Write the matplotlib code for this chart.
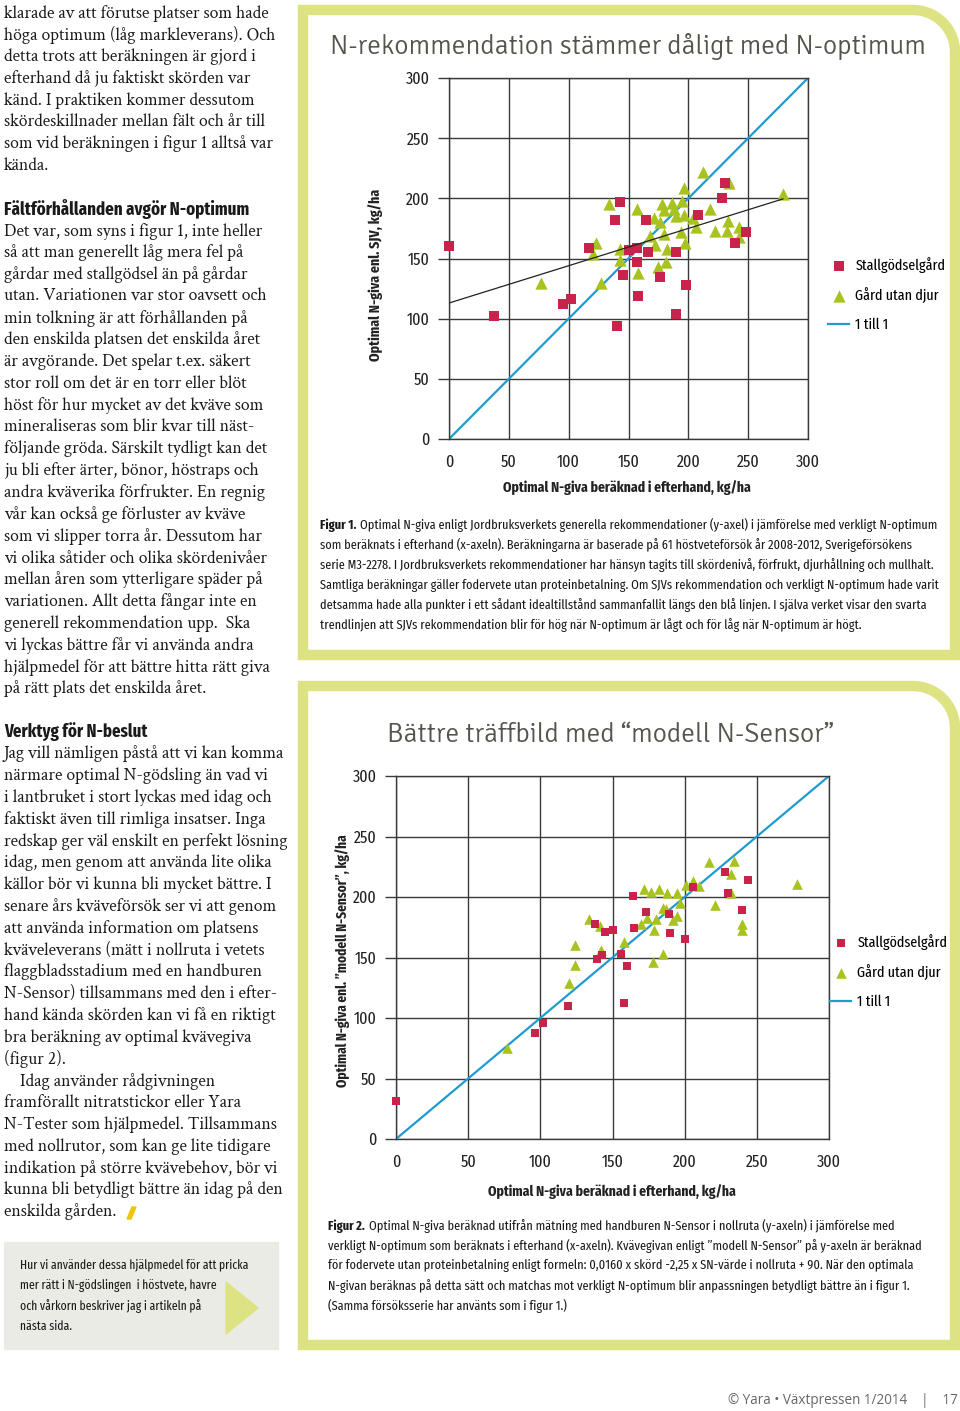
import numpy as np
import matplotlib
matplotlib.use("Agg")
import matplotlib.pyplot as plt
from matplotlib.patches import Polygon, Rectangle

W, H = 960, 1411
NARROW = ["Fira Sans Extra Condensed", "PT Sans Narrow", "Liberation Sans Narrow", "DejaVu Sans"]
SERIF = ["Crimson Text", "Liberation Serif", "DejaVu Serif"]
ROUND = ["Signika", "Ubuntu", "Open Sans", "DejaVu Sans"]
plt.rcParams["font.family"] = NARROW

# ---- figure 1 data: SJV recommendation vs calculated optimum (kg N/ha)
fig1_stall_x = [0, 38, 95, 102, 117, 139, 143, 140, 145, 150, 157, 157, 158, 166,
                165, 176, 190, 190, 198, 208, 228, 231, 239, 248]
fig1_stall_y = [160, 102, 112, 116, 159, 182, 197, 94, 136, 157, 159, 147, 119, 155,
                182, 135, 155, 104, 128, 186, 200, 213, 163, 172]
fig1_utan_x = [77, 120, 123, 127, 134, 143, 143, 157, 158, 168, 171, 172, 175, 176,
               178, 180, 180, 181, 182, 186, 188, 190, 194, 195, 196, 196, 197, 204,
               206, 212, 218, 222, 232, 233, 234, 242, 242, 279]
fig1_utan_y = [130, 154, 163, 130, 195, 158, 149, 191, 138, 169, 184, 161, 143, 180,
               195, 190, 170, 147, 158, 196, 191, 185, 172, 198, 209, 186, 163, 184,
               176, 222, 191, 173, 173, 181, 213, 176, 168, 204]
trend_intercept = 113
trend_slope = 0.31
trend_x = [0, 279]

# ---- figure 2 data: "modell N-Sensor" vs calculated optimum (kg N/ha)
fig2_stall_x = [0, 96, 102, 119, 139, 143, 138, 145, 150, 156, 160, 158, 164, 165,
                173, 189, 190, 200, 206, 228, 230, 240, 244]
fig2_stall_y = [31, 88, 96, 110, 149, 152, 178, 171, 173, 153, 143, 112, 201, 174,
                188, 186, 170, 165, 208, 221, 203, 189, 214]
fig2_utan_x = [77, 120, 124, 124, 134, 141, 142, 158, 170, 172, 174, 177, 178, 179,
               180, 182, 185, 185, 187, 188, 192, 195, 195, 197, 201, 206, 210, 217,
               221, 232, 232, 234, 240, 240, 278]
fig2_utan_y = [75, 129, 144, 160, 182, 176, 156, 163, 178, 207, 183, 204, 146, 173,
               182, 207, 153, 191, 190, 203, 181, 184, 203, 195, 210, 213, 209, 229,
               193, 219, 203, 230, 178, 173, 211]

one_to_one = [0, 300]
ticks = [0, 50, 100, 150, 200, 250, 300]
legend_labels = ["Stallgödselgård", "Gård utan djur", "1 till 1"]

title1 = "N-rekommendation stämmer dåligt med N-optimum"
title2 = "Bättre träffbild med “modell N-Sensor”"
ylabel1 = "Optimal N-giva enl. SJV, kg/ha"
ylabel2 = "Optimal N-giva enl. ”modell N-Sensor”, kg/ha"
xlabel = "Optimal N-giva beräknad i efterhand, kg/ha"

caption1 = [
    "Optimal N-giva enligt Jordbruksverkets generella rekommendationer (y-axel) i jämförelse med verkligt N-optimum",
    "som beräknats i efterhand (x-axeln). Beräkningarna är baserade på 61 höstveteförsök år 2008-2012, Sverigeförsökens",
    "serie M3-2278. I Jordbruksverkets rekommendationer har hänsyn tagits till skördenivå, förfrukt, djurhållning och mullhalt.",
    "Samtliga beräkningar gäller fodervete utan proteinbetalning. Om SJVs rekommendation och verkligt N-optimum hade varit",
    "detsamma hade alla punkter i ett sådant idealtillstånd sammanfallit längs den blå linjen. I själva verket visar den svarta",
    "trendlinjen att SJVs rekommendation blir för hög när N-optimum är lågt och för låg när N-optimum är högt.",
]
caption2 = [
    "Optimal N-giva beräknad utifrån mätning med handburen N-Sensor i nollruta (y-axeln) i jämförelse med",
    "verkligt N-optimum som beräknats i efterhand (x-axeln). Kvävegivan enligt ”modell N-Sensor” på y-axeln är beräknad",
    "för fodervete utan proteinbetalning enligt formeln: 0,0160 x skörd -2,25 x SN-värde i nollruta + 90. När den optimala",
    "N-givan beräknas på detta sätt och matchas mot verkligt N-optimum blir anpassningen betydligt bättre än i figur 1.",
    "(Samma försöksserie har använts som i figur 1.)",
]

body_a = [
    "klarade av att förutse platser som hade",
    "höga optimum (låg markleverans). Och",
    "detta trots att beräkningen är gjord i",
    "efterhand då ju faktiskt skörden var",
    "känd. I praktiken kommer dessutom",
    "skördeskillnader mellan fält och år till",
    "som vid beräkningen i figur 1 alltså var",
    "kända.",
]
heading_b = "Fältförhållanden avgör N-optimum"
body_b = [
    "Det var, som syns i figur 1, inte heller",
    "så att man generellt låg mera fel på",
    "gårdar med stallgödsel än på gårdar",
    "utan. Variationen var stor oavsett och",
    "min tolkning är att förhållanden på",
    "den enskilda platsen det enskilda året",
    "är avgörande. Det spelar t.ex. säkert",
    "stor roll om det är en torr eller blöt",
    "höst för hur mycket av det kväve som",
    "mineraliseras som blir kvar till näst-",
    "följande gröda. Särskilt tydligt kan det",
    "ju bli efter ärter, bönor, höstraps och",
    "andra kväverika förfrukter. En regnig",
    "vår kan också ge förluster av kväve",
    "som vi slipper torra år. Dessutom har",
    "vi olika såtider och olika skördenivåer",
    "mellan åren som ytterligare späder på",
    "variationen. Allt detta fångar inte en",
    "generell rekommendation upp.  Ska",
    "vi lyckas bättre får vi använda andra",
    "hjälpmedel för att bättre hitta rätt giva",
    "på rätt plats det enskilda året.",
]
heading_c = "Verktyg för N-beslut"
body_c = [
    "Jag vill nämligen påstå att vi kan komma",
    "närmare optimal N-gödsling än vad vi",
    "i lantbruket i stort lyckas med idag och",
    "faktiskt även till rimliga insatser. Inga",
    "redskap ger väl enskilt en perfekt lösning",
    "idag, men genom att använda lite olika",
    "källor bör vi kunna bli mycket bättre. I",
    "senare års kväveförsök ser vi att genom",
    "att använda information om platsens",
    "kväveleverans (mätt i nollruta i vetets",
    "flaggbladsstadium med en handburen",
    "N-Sensor) tillsammans med den i efter-",
    "hand kända skörden kan vi få en riktigt",
    "bra beräkning av optimal kvävegiva",
    "(figur 2).",
    "    Idag använder rådgivningen",
    "framförallt nitratstickor eller Yara",
    "N-Tester som hjälpmedel. Tillsammans",
    "med nollrutor, som kan ge lite tidigare",
    "indikation på större kvävebehov, bör vi",
    "kunna bli betydligt bättre än idag på den",
    "enskilda gården.",
]
box_text = [
    "Hur vi använder dessa hjälpmedel för att pricka",
    "mer rätt i N-gödslingen  i höstvete, havre",
    "och vårkorn beskriver jag i artikeln på",
    "nästa sida.",
]
footer = "© Yara • Växtpressen 1/2014    |    17"

RED = "#c8234b"
GREEN = "#a8c21e"
BLUE = "#1f9bd1"
FRAME = "#dde383"
TITLE = "#55554d"
GRID = "#3a3a3a"
INK = "#1a1a1a"

fig = plt.figure(figsize=(W / 100, H / 100), dpi=100)
renderer = fig.canvas.get_renderer()


def fx(x):
    return x / W


def fy(y):
    return 1 - y / H


def fit(t, px, vertical=False):
    bb = t.get_window_extent(renderer)
    cur = bb.height if vertical else bb.width
    t.set_fontsize(t.get_fontsize() * px / cur)
    return t


def fitted_size(text, px, **kw):
    t = fig.text(0, 0, text, fontsize=12, **kw)
    size = 12 * px / t.get_window_extent(renderer).width
    t.remove()
    return size


def frame(x0, y0, x1, y1, r):
    a = np.linspace(np.pi / 2, 0, 20)
    arc = [(x1 - r + r * np.cos(t), y0 + r - r * np.sin(t)) for t in a]
    pts = [(x0, y1), (x0, y0)] + arc + [(x1, y1)]
    poly = Polygon([(fx(p), fy(q)) for p, q in pts], closed=True, fill=False,
                   edgecolor=FRAME, lw=7.5, joinstyle="miter",
                   transform=fig.transFigure)
    fig.add_artist(poly)


leg_size = fitted_size(legend_labels[0], 90)


def chart(rect, sx, sy, ux, uy, s_sq, s_tri, leg_xy, ylab, ylab_xy, ylab_px, xlab_xy):
    ax = fig.add_axes(rect)
    ax.set_xlim(0, 300)
    ax.set_ylim(0, 300)
    ax.set_xticks(ticks)
    ax.set_yticks(ticks)
    ax.grid(True, color=GRID, lw=1.0, zorder=0)
    ax.set_axisbelow(True)
    for sp in ax.spines.values():
        sp.set_color(GRID)
        sp.set_linewidth(1.0)
    ax.tick_params(axis="y", length=8, width=1.0, color=GRID, pad=6, labelsize=12.5,
                   labelcolor="#222222")
    ax.tick_params(axis="x", length=0, pad=11, labelsize=12.5, labelcolor="#222222")
    ln, = ax.plot(one_to_one, one_to_one, color=BLUE, lw=1.6, zorder=2)
    sq = ax.scatter(sx, sy, marker="s", s=s_sq, color=RED, lw=0, zorder=4, clip_on=False)
    tr = ax.scatter(ux, uy, marker="^", s=s_tri, color=GREEN, lw=0, zorder=3, clip_on=False)
    ax.legend([sq, tr, ln], legend_labels, loc="upper left",
              bbox_to_anchor=(fx(leg_xy[0]), fy(leg_xy[1])),
              bbox_transform=fig.transFigure, frameon=False, fontsize=leg_size,
              handlelength=1.4, handletextpad=0.4, labelspacing=0.95,
              borderpad=0, borderaxespad=0, scatterpoints=1)
    t = fig.text(fx(ylab_xy[0]), fy(ylab_xy[1]), ylab, rotation=90, ha="center",
                 va="center", fontsize=12, fontweight="bold", color="#222222")
    fit(t, ylab_px, vertical=True)
    t = fig.text(fx(xlab_xy[0]), fy(xlab_xy[1]), xlabel, ha="center", va="center",
                 fontsize=12, fontweight="bold", color="#222222")
    fit(t, 248)
    return ax


# panel frames
frame(303, 10, 955, 655, 42)
frame(303, 686, 955, 1345, 42)

# titles
t = fig.text(fx(330), fy(46), title1, ha="left", va="center", color=TITLE,
             family=ROUND, fontsize=18)
fit(t, 595)
t = fig.text(fx(387), fy(735), title2, ha="left", va="center", color=TITLE,
             family=ROUND, fontsize=18)
fit(t, 448)

# chart 1
ax1 = chart([fx(449), fy(439), (808 - 449) / W, (439 - 78) / H],
            fig1_stall_x, fig1_stall_y, fig1_utan_x, fig1_utan_y, 58, 78,
            (828, 257), ylabel1, (376, 275), 172, (627, 488))
tx = np.array(trend_x, dtype=float)
ax1.plot(tx, trend_intercept + trend_slope * tx, color="#222222", lw=0.9, zorder=5)

# chart 2
ax2 = chart([fx(396), fy(1139), (829 - 396) / W, (1139 - 776) / H],
            fig2_stall_x, fig2_stall_y, fig2_utan_x, fig2_utan_y, 40, 58,
            (830, 934), ylabel2, (343, 961), 253, (612, 1192))

# captions with bold "Figur n."
cap_size = fitted_size(caption1[2], 612)


def caption(x, y0, lead, lines):
    b = fig.text(fx(x), fy(y0), lead, ha="left", va="center", fontsize=cap_size,
                 fontweight="bold", color=INK)
    bb = b.get_window_extent(renderer)
    for i, line in enumerate(lines):
        xs = fx(bb.x1 + 4) if i == 0 else fx(x)
        fig.text(xs, fy(y0 + 20 * i), line, ha="left", va="center", fontsize=cap_size,
                 color=INK)


caption(320, 525, "Figur 1.", caption1)
caption(328, 1226, "Figur 2.", caption2)

# left column body text
LS = 21.8
body_size = fitted_size(body_a[0], 264, family=SERIF)


def body(lines, y0):
    for i, line in enumerate(lines):
        fig.text(fx(4), fy(y0 + LS * i), line, ha="left", va="center",
                 family=SERIF, fontsize=body_size, color=INK)


body(body_a, 13)
t = fig.text(fx(4), fy(209), heading_b, ha="left", va="center", fontsize=12,
             fontweight="bold", color=INK)
fit(t, 243)
body(body_b, 231)
t = fig.text(fx(4), fy(732), heading_c, ha="left", va="center", fontsize=12,
             fontweight="bold", color=INK)
fit(t, 143)
body(body_c, 754)
fig.add_artist(Polygon([(fx(127), fy(1219)), (fx(131), fy(1219)), (fx(136), fy(1207)),
                        (fx(132), fy(1207))], closed=True, color="#f2c500",
                       transform=fig.transFigure))

# grey info box
fig.add_artist(Rectangle((fx(4), fy(1349)), (278 - 4) / W, (1349 - 1242) / H,
                         color="#ebebe5", transform=fig.transFigure, zorder=0))
fig.add_artist(Polygon([(fx(226), fy(1282)), (fx(226), fy(1334)), (fx(258), fy(1308))],
                       closed=True, color=FRAME, transform=fig.transFigure))
box_size = fitted_size(box_text[0], 228)
for i, line in enumerate(box_text):
    fig.text(fx(20), fy(1265 + 20.5 * i), line, ha="left", va="center",
             fontsize=box_size, color=INK)

# footer
t = fig.text(fx(958), fy(1401), footer, ha="right", va="center", fontsize=10,
             family=["Open Sans", "DejaVu Sans"], color="#666666")
fit(t, 231)

fig.savefig("out.png", dpi=100)
